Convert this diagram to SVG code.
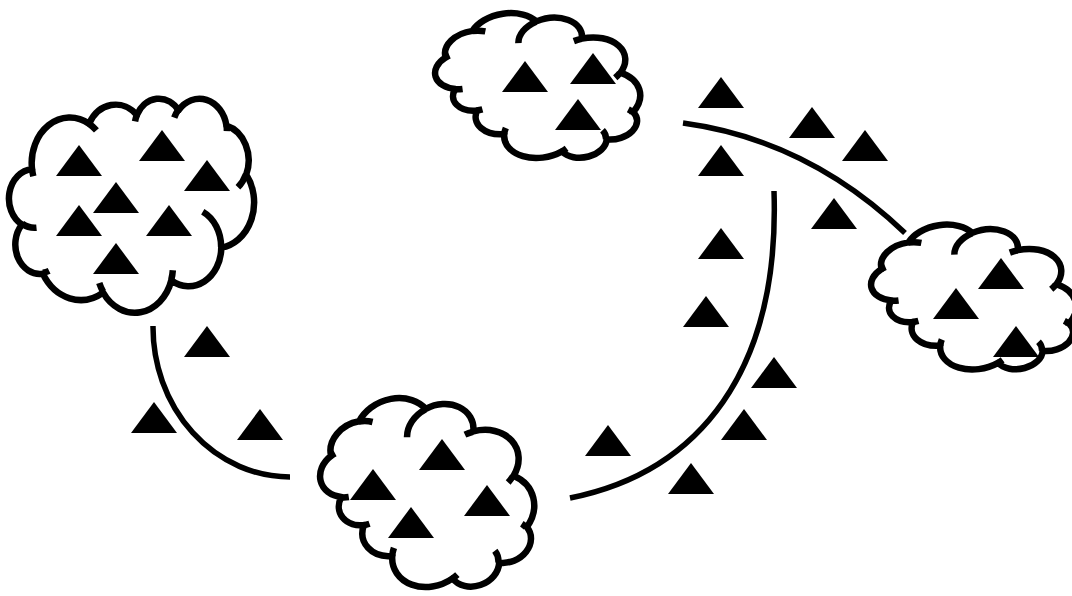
<svg xmlns="http://www.w3.org/2000/svg" xmlns:xlink="http://www.w3.org/1999/xlink" width="1072" height="596" viewBox="0 0 1072 596">
<style>
.outline{fill:#fff;stroke:#000;stroke-width:6.5;vector-effect:non-scaling-stroke;stroke-linejoin:round}
.hooks{fill:none;stroke:#000;stroke-width:6.5;vector-effect:non-scaling-stroke}
.conn{fill:none;stroke:#000;stroke-width:5.5}
.tri{fill:#000}
</style>
<defs>
<g id="cloud">
<path class="outline" d="M -17700 -7230 A 6753 9190 0 0 1 -7595 -16398 A 5333 7267 0 0 1 857 -18168 A 4365 5945 0 0 1 8235 -19117 A 4857 6595 0 0 1 16721 -16023 A 5333 7273 0 0 1 20221 -6139 A 6775 9220 0 0 1 15806 8602 A 5785 7867 0 0 1 6958 15212 A 6752 9215 0 0 1 -5116 17667 A 7720 10543 0 0 1 -15792 13872 A 4360 5918 0 0 1 -19486 3953 A 4345 5945 0 0 1 -17700 -7230 Z"/>
<path class="hooks" d="M -16907 4577 A 4345 5945 0 0 1 -19440 3780 M -14672 13299 A 4360 5918 0 0 1 -15780 13681 M -5122 17490 A 6752 9215 0 0 1 -5791 15746 M 7227 13151 A 6752 9215 0 0 1 6960 15060 M 12529 1354 A 5785 7867 0 0 1 15780 8490 M 20198 -6246 A 5333 7273 0 0 1 18750 -3571 M 16724 -16174 A 4857 6595 0 0 1 16800 -14910 M 7478 -17648 A 4857 6595 0 0 1 8219 -19258 M 541 -16880 A 4365 5945 0 0 1 900 -18270 M -7600 -16408 A 6753 9190 0 0 1 -6298 -15057 M -17473 -5811 A 6753 9190 0 0 1 -17700 -7228"/>
</g>
<path id="tri" class="tri" d="M0 0 L23 31 L-23 31 Z"/>
</defs>

<g id="connectors">
<path class="conn" d="M153 326 A 137 150 0 0 0 290 477"/>
<path class="conn" d="M683 123 Q 808 140 905 233"/>
<path class="conn" d="M774 191 C 780 370 700 472 570 498"/>
</g>

<g id="particles">
<use href="#tri" x="207" y="326"/>
<use href="#tri" x="154" y="402"/>
<use href="#tri" x="260" y="409"/>
<use href="#tri" x="721" y="77"/>
<use href="#tri" x="812" y="107"/>
<use href="#tri" x="865" y="130"/>
<use href="#tri" x="721" y="145"/>
<use href="#tri" x="834" y="198"/>
<use href="#tri" x="721" y="228"/>
<use href="#tri" x="706" y="296"/>
<use href="#tri" x="774" y="357"/>
<use href="#tri" x="744" y="409"/>
<use href="#tri" x="608" y="425"/>
<use href="#tri" x="691" y="463"/>
</g>

<g id="cloud-left">
<use href="#cloud" transform="matrix(0.005648 0 0 0.004954 132 205)"/>
<use href="#tri" x="79" y="145"/>
<use href="#tri" x="162" y="130"/>
<use href="#tri" x="207" y="160"/>
<use href="#tri" x="116" y="182"/>
<use href="#tri" x="79" y="205"/>
<use href="#tri" x="169" y="205"/>
<use href="#tri" x="116" y="243"/>
</g>

<g id="cloud-top">
<use href="#cloud" transform="matrix(-0.002465 -0.003133 0.003592 -0.001580 544.4 84.5)"/>
<use href="#tri" x="525" y="61"/>
<use href="#tri" x="593" y="53"/>
<use href="#tri" x="578" y="99"/>
</g>

<g id="cloud-bottom">
<use href="#cloud" transform="matrix(-0.002573 -0.004083 0.003750 -0.002059 434.2 491.2)"/>
<use href="#tri" x="442" y="439"/>
<use href="#tri" x="373" y="469"/>
<use href="#tri" x="487" y="485"/>
<use href="#tri" x="411" y="507"/>
</g>

<g id="cloud-right">
<use href="#cloud" transform="matrix(-0.002465 -0.003133 0.003592 -0.001580 980.4 296)"/>
<use href="#tri" x="1001" y="258"/>
<use href="#tri" x="956" y="288"/>
<use href="#tri" x="1016" y="326"/>
</g>
</svg>
